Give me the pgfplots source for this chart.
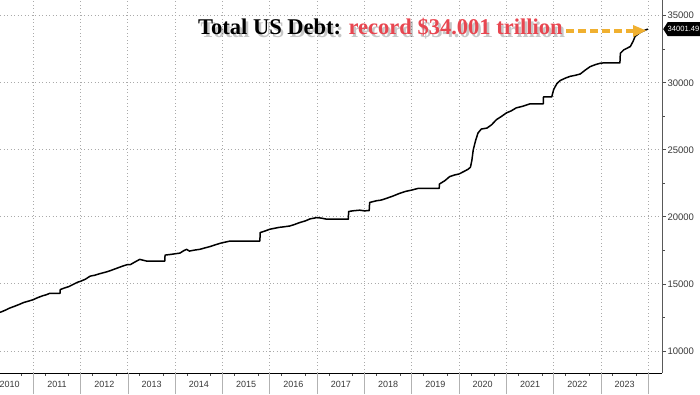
\documentclass[border=0pt]{standalone}
\usepackage{pgfplots}
\pgfplotsset{compat=1.18}
\usepackage{pgfplotstable}
\usepackage{fontspec}
\setmainfont{Liberation Serif}
\setsansfont{Liberation Sans}
\definecolor{titlered}{RGB}{232,70,80}
\definecolor{arrowgold}{RGB}{240,176,48}
\definecolor{gridgray}{RGB}{170,170,170}
\definecolor{ticktext}{RGB}{55,55,55}

\pgfplotstableread{
year debt
2010.296 12880
2010.40 13030
2010.50 13200
2010.60 13330
2010.70 13470
2010.80 13620
2010.90 13720
2011.00 13830
2011.10 13990
2011.20 14120
2011.28 14200
2011.34 14290
2011.565 14300
2011.57 14580
2011.65 14690
2011.75 14800
2011.85 14980
2011.93 15120
2012.00 15200
2012.10 15350
2012.20 15580
2012.30 15650
2012.40 15760
2012.55 15900
2012.65 16020
2012.75 16150
2012.85 16280
2012.93 16380
2013.00 16450
2013.05 16440
2013.15 16640
2013.25 16830
2013.38 16720
2013.40 16700
2013.78 16700
2013.785 17150
2013.90 17200
2014.00 17250
2014.10 17300
2014.18 17480
2014.24 17580
2014.30 17450
2014.40 17520
2014.52 17580
2014.62 17680
2014.75 17800
2014.85 17920
2014.95 18030
2015.00 18075
2015.10 18150
2015.16 18200
2015.79 18200
2015.795 18830
2015.90 18950
2016.00 19080
2016.10 19150
2016.20 19220
2016.30 19260
2016.42 19320
2016.52 19430
2016.63 19575
2016.75 19700
2016.85 19850
2017.00 19950
2017.10 19900
2017.20 19830
2017.66 19830
2017.665 20400
2017.75 20450
2017.90 20500
2018.00 20450
2018.10 20470
2018.11 21075
2018.25 21200
2018.35 21250
2018.46 21375
2018.60 21550
2018.74 21750
2018.87 21900
2019.00 22000
2019.14 22130
2019.58 22130
2019.585 22450
2019.70 22700
2019.80 23000
2019.90 23120
2020.00 23200
2020.10 23380
2020.19 23550
2020.24 23700
2020.27 24200
2020.30 25000
2020.35 25700
2020.40 26250
2020.47 26550
2020.59 26620
2020.69 26875
2020.79 27250
2020.90 27500
2021.00 27750
2021.10 27900
2021.21 28130
2021.35 28250
2021.46 28380
2021.50 28430
2021.78 28430
2021.785 28950
2021.96 28950
2022.00 29500
2022.07 29950
2022.14 30170
2022.25 30350
2022.35 30480
2022.45 30550
2022.56 30650
2022.67 30950
2022.77 31200
2022.88 31350
2022.98 31450
2023.05 31480
2023.40 31480
2023.41 32200
2023.48 32450
2023.62 32700
2023.68 33100
2023.72 33450
2023.83 33750
2023.92 33900
2023.99 34001
}\debt

\begin{document}
\begin{tikzpicture}
\begin{axis}[
  scale only axis, width=662pt, height=373pt,
  xmin=2010.296, xmax=2024.29, ymin=8360, ymax=36170,
  clip=false,
  axis x line*=bottom, axis y line*=right,
  x axis line style={draw=black, line width=0.9pt},
  y axis line style={draw=black!65, line width=0.9pt},
  /pgf/number format/assume math mode=true,
  /pgf/number format/set thousands separator={},
  scaled y ticks=false,
  tick align=outside,
  major tick length=4pt, minor tick length=2.5pt,
  ytick={10000,15000,20000,25000,30000,35000},
  minor ytick={12500,17500,22500,27500,32500},
  ytick style={draw=black!70, line width=0.8pt},
  yticklabel style={font=\sffamily\fontsize{9.5}{10}\selectfont, text=ticktext, xshift=-2pt},
  ymajorgrids=true,
  grid style={gridgray, line width=0.9pt, dash pattern=on 0.9pt off 2.6pt},
  xtick={2010.5,2011.5,2012.5,2013.5,2014.5,2015.5,2016.5,2017.5,2018.5,2019.5,2020.5,2021.5,2022.5,2023.5},
  xticklabels={2010,2011,2012,2013,2014,2015,2016,2017,2018,2019,2020,2021,2022,2023},
  xtick style={draw=none},
  minor xtick={2010.75,2011.25,2011.75,2012.25,2012.75,2013.25,2013.75,2014.25,2014.75,2015.25,2015.75,2016.25,2016.75,2017.25,2017.75,2018.25,2018.75,2019.25,2019.75,2020.25,2020.75,2021.25,2021.75,2022.25,2022.75,2023.25,2023.75},
  minor x tick style={draw=black!70, line width=0.7pt},
  xticklabel style={font=\sffamily\fontsize{9}{10}\selectfont, text=ticktext, anchor=center, yshift=-7pt},
  extra x ticks={2011,2012,2013,2014,2015,2016,2017,2018,2019,2020,2021,2022,2023,2024},
  extra x tick labels={},
  extra x tick style={xmajorgrids=true, major tick length=21pt,
     xtick style={draw=black!30, line width=0.8pt}},
]
\addplot[black, line width=1.5pt, line join=round] table[x=year, y=debt] {\debt};
\fill[black] ([xshift=1.2pt]axis cs:2024.29,34001) -- ++(4.5pt,7pt) -- ++(40pt,0pt) -- ++(0pt,-14pt) -- ++(-40pt,0pt) -- cycle;
\node[anchor=west, text=white, inner sep=0pt, font=\sffamily\fontsize{7.6}{9}\selectfont] at ([xshift=5.5pt]axis cs:2024.29,34001) {34001.49};
% title with soft shadow
\node[anchor=base west, inner sep=0pt, text=black, opacity=0.22, font=\fontsize{22.5}{24}\selectfont\bfseries] at ([xshift=200.5pt, yshift=-37.5pt]rel axis cs:0,1) {Total US Debt: record \$34.001 trillion};
\node[anchor=base west, inner sep=0pt, font=\fontsize{22.5}{24}\selectfont\bfseries] at ([xshift=198pt, yshift=-35pt]rel axis cs:0,1) {Total US Debt: \textcolor{titlered}{record \$34.001 trillion}};
\draw[arrowgold, line width=3.5pt, dash pattern=on 8pt off 4pt] ([xshift=566pt, yshift=-31pt]rel axis cs:0,1) -- ([xshift=633pt, yshift=-31pt]rel axis cs:0,1);
\fill[arrowgold] ([xshift=633pt, yshift=-25pt]rel axis cs:0,1) -- ([xshift=646pt, yshift=-30.5pt]rel axis cs:0,1) -- ([xshift=633pt, yshift=-37pt]rel axis cs:0,1) -- cycle;
\coordinate (LL) at (rel axis cs:0,0);
\coordinate (UR) at (rel axis cs:1,1);
\end{axis}
\pgfresetboundingbox
\useasboundingbox ([yshift=-21pt]LL) rectangle ([xshift=38pt]UR);
\end{tikzpicture}
\end{document}
